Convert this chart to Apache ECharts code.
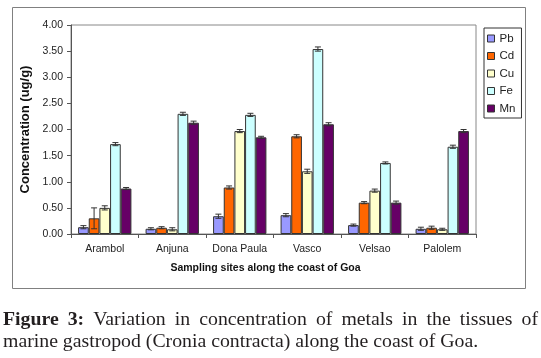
<!DOCTYPE html>
<html><head><meta charset="utf-8">
<script src="https://cdn.jsdelivr.net/npm/echarts@6/dist/echarts.min.js"></script>
<style>html,body{margin:0;padding:0;background:#fff}#c{width:541px;height:358px}</style>
</head><body><div id="c"></div>
<script>
// ---- data ----
const categories = ['Arambol', 'Anjuna', 'Dona Paula', 'Vasco', 'Velsao', 'Palolem'];
const metals = ['Pb', 'Cd', 'Cu', 'Fe', 'Mn'];
const pb = [0.13, 0.10, 0.34, 0.36, 0.17, 0.10];
const cd = [0.30, 0.12, 0.89, 1.87, 0.60, 0.12];
const cu = [0.50, 0.09, 1.97, 1.20, 0.83, 0.09];
const fe = [1.72, 2.30, 2.28, 3.54, 1.36, 1.67];
const mn = [0.87, 2.13, 1.85, 2.10, 0.60, 1.97];
const pbErr = [0.03, 0.02, 0.04, 0.03, 0.02, 0.03];
const cdErr = [0.20, 0.02, 0.03, 0.03, 0.02, 0.03];
const cuErr = [0.04, 0.03, 0.03, 0.04, 0.03, 0.02];
const feErr = [0.03, 0.03, 0.03, 0.04, 0.02, 0.03];
const mnErr = [0.02, 0.03, 0.02, 0.03, 0.03, 0.03];
const yMin = 0, yMax = 4, yStep = 0.5;
const xTitle = 'Sampling sites along the coast of Goa';
const yTitle = 'Concentration (ug/g)';
const captionBold = ['Figure', '3:'];
const captionLine1 = ['Variation', 'in', 'concentration', 'of', 'metals', 'in', 'the', 'tissues', 'of'];
const captionLine2 = 'marine gastropod (Cronia contracta) along the coast of Goa.';

// ---- styling ----
const values = [pb, cd, cu, fe, mn];
const errors = [pbErr, cdErr, cuErr, feErr, mnErr];
const colors = ['#9999ff', '#ff6600', '#ffffcc', '#ccffff', '#660066'];
const catGap = 0.21;
const axisFont = 'Liberation Sans';
const capFont = 'Liberation Serif';
const capSize = 19.8;

const chart = echarts.init(document.getElementById('c'), null, {renderer: 'canvas'});

const barSeries = metals.map((m, i) => ({
  name: m, type: 'bar', data: values[i],
  barGap: '0%', barCategoryGap: (catGap * 100) + '%',
  itemStyle: {color: colors[i], borderColor: '#333', borderWidth: 1},
  emphasis: {disabled: true}, z: 2
}));

const errSeries = metals.map((m, i) => ({
  type: 'custom', name: m + ' err', z: 5, silent: true,
  data: values[i].map((v, k) => [k, v, errors[i][k]]),
  encode: {x: 0, y: 1},
  renderItem: function (params, api) {
    const k = api.value(0), v = api.value(1), e = api.value(2);
    const band = api.size([1, 0])[0];
    const bw = band * (1 - catGap) / metals.length;
    const c = api.coord([k, v]);
    const x = c[0] + (i - (metals.length - 1) / 2) * bw;
    const yHi = api.coord([k, v + e])[1];
    const yLo = api.coord([k, Math.max(v - e, 0)])[1];
    const cap = 3;
    const st = {stroke: '#333', lineWidth: 1};
    return {type: 'group', children: [
      {type: 'line', shape: {x1: x, y1: yHi, x2: x, y2: yLo}, style: st},
      {type: 'line', shape: {x1: x - cap, y1: yHi, x2: x + cap, y2: yHi}, style: st},
      {type: 'line', shape: {x1: x - cap, y1: yLo, x2: x + cap, y2: yLo}, style: st}
    ]};
  }
}));

// caption layout (justified first line)
const cv = document.createElement('canvas').getContext('2d');
function tw(t, bold) { cv.font = (bold ? 'bold ' : '') + capSize + 'px "' + capFont + '"'; return cv.measureText(t).width; }
const capLeft = 3, capRight = 538;
const words1 = captionBold.map(t => ({t, b: true})).concat(captionLine1.map(t => ({t, b: false})));
const totalW = words1.reduce((s, w) => s + tw(w.t, w.b), 0);
const gap = (capRight - capLeft - totalW) / (words1.length - 1);
const capEls = [];
let cx = capLeft;
words1.forEach(w => {
  capEls.push({type: 'text', x: cx, y: 320, silent: true,
    style: {text: w.t, fontFamily: capFont, fontSize: capSize, fontWeight: w.b ? 'bold' : 'normal',
      fill: '#231f20', verticalAlign: 'middle', align: 'left'}});
  cx += tw(w.t, w.b) + gap;
});
capEls.push({type: 'text', x: capLeft, y: 342, silent: true,
  style: {text: captionLine2, fontFamily: capFont, fontSize: capSize, fill: '#231f20', verticalAlign: 'middle', align: 'left'}});

const option = {
  animation: false,
  backgroundColor: '#fff',
  textStyle: {fontFamily: axisFont},
  grid: {left: 71, right: 65, top: 25, bottom: 124, show: true, borderColor: '#888', borderWidth: 1, backgroundColor: 'transparent'},
  legend: {
    data: metals, orient: 'vertical', left: 484, top: 28,
    itemWidth: 7, itemHeight: 7, itemGap: 4.5, icon: 'rect',
    padding: [4, 6, 3, 3], borderColor: '#333', borderWidth: 1,
    textStyle: {fontFamily: axisFont, fontSize: 11.5, color: '#222', lineHeight: 13},
    itemStyle: {borderColor: '#333', borderWidth: 1}
  },
  xAxis: {
    type: 'category', data: categories,
    name: xTitle, nameLocation: 'middle', nameGap: 29,
    nameTextStyle: {fontFamily: axisFont, fontSize: 10.5, fontWeight: 'bold', color: '#111', padding: [0, 16, 0, 0]},
    axisLine: {lineStyle: {color: '#555'}},
    axisTick: {show: true, length: 4, lineStyle: {color: '#555'}},
    axisLabel: {fontFamily: axisFont, fontSize: 10.5, color: '#222', margin: 10, interval: 0}
  },
  yAxis: {
    type: 'value', min: yMin, max: yMax, interval: yStep,
    name: yTitle, nameLocation: 'middle', nameGap: 38.5, nameRotate: 90,
    nameTextStyle: {fontFamily: axisFont, fontSize: 13, fontWeight: 'bold', color: '#111'},
    axisLine: {show: true, lineStyle: {color: '#555'}},
    axisTick: {show: true, length: 4, lineStyle: {color: '#555'}},
    splitLine: {show: false},
    axisLabel: {fontFamily: axisFont, fontSize: 10.5, color: '#222', margin: 8, formatter: v => v.toFixed(2)}
  },
  series: barSeries.concat(errSeries),
  graphic: [
    {type: 'rect', shape: {x: 12.5, y: 7.5, width: 513, height: 281}, silent: true, z: -10,
     style: {fill: 'none', stroke: '#808080', lineWidth: 1}}
  ].concat(capEls)
};
chart.setOption(option);
</script></body></html>
